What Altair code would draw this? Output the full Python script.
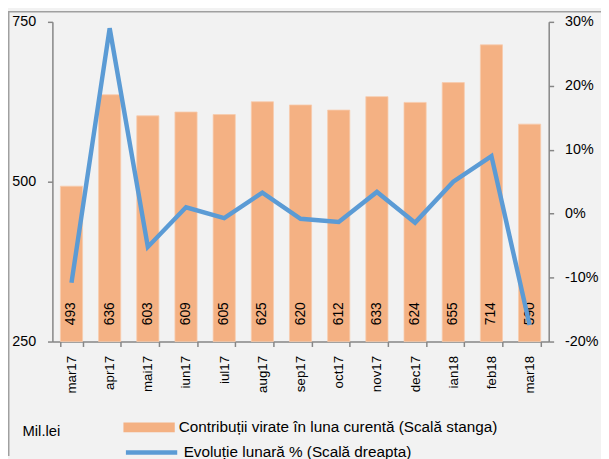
import altair as alt
import pandas as pd

# ---- data ----
months = ["mar17", "apr17", "mai17", "iun17", "iul17", "aug17", "sep17",
          "oct17", "nov17", "dec17", "ian18", "feb18", "mar18"]
contributii = [493, 636, 603, 609, 605, 625, 620, 612, 633, 624, 655, 714, 590]
evolutie = [-10.8, 29.0, -5.2, 1.0, -0.7, 3.3, -0.8, -1.3, 3.4, -1.4, 5.0, 9.0, -17.4]
left_ticks = [250, 500, 750]
right_ticks = [-20, -10, 0, 10, 20, 30]
bar_name = "Contribuții  virate în luna curentă (Scală stanga)"
line_name = "Evoluție lunară % (Scală dreapta)"
unit_label = ["Mil.lei"]

df = pd.DataFrame({
    "luna": months,
    "valoare": contributii,
    "evolutie": evolutie,
    "serie_bar": [bar_name] * len(months),
    "serie_line": [line_name] * len(months),
})

FONT = "Liberation Sans, Arial, sans-serif"
AX = "#868686"
BAR = "#F4B183"
LINE = "#5B9BD5"

x_enc = alt.X(
    "luna:N", sort=months,
    scale=alt.Scale(paddingInner=0.42, paddingOuter=0.21),
    axis=alt.Axis(title=None, labelAngle=270, labelFont=FONT, labelFontSize=13.5,
                  labelColor="black", labelPadding=9, tickSize=5, tickBand="extent",
                  domainColor=AX, tickColor=AX, domainWidth=1.5, tickWidth=1.5),
)

y_left_scale = alt.Scale(domain=[250, 750], nice=False, zero=False)

bars = alt.Chart(df).mark_bar(stroke="#F8CBAD", strokeWidth=0.8).encode(
    x=x_enc,
    y=alt.Y("valoare:Q", scale=y_left_scale,
            axis=alt.Axis(title=None, values=left_ticks, labelFont=FONT, labelFontSize=14.5,
                          labelColor="black", labelPadding=12, tickSize=5, grid=False,
                          domainColor=AX, tickColor=AX, domainWidth=1.5, tickWidth=1.5)),
    y2=alt.datum(250),
    fill=alt.Fill("serie_bar:N", scale=alt.Scale(range=[BAR]),
                  legend=alt.Legend(title=None, orient="none", legendX=72, legendY=385,
                                    symbolType="M-1,-0.19H1V0.19H-1Z", symbolSize=2704,
                                    symbolStrokeWidth=0, labelFont=FONT, labelFontSize=15.5,
                                    labelColor="black", labelOffset=4, labelLimit=0,
                                    padding=0)),
)

labels = alt.Chart(df).mark_text(angle=270, align="left", baseline="middle", dx=16.5,
                                 font=FONT, fontSize=14, color="black").encode(
    x=alt.X("luna:N", sort=months),
    y=alt.YDatum(250, scale=y_left_scale),
    text=alt.Text("valoare:Q"),
)

line = alt.Chart(df).mark_line(strokeWidth=4.5).encode(
    x=alt.X("luna:N", sort=months),
    y=alt.Y("evolutie:Q", scale=alt.Scale(domain=[-20, 30], nice=False, zero=False),
            axis=alt.Axis(title=None, orient="right", values=right_ticks,
                          labelExpr="datum.value + '%'", labelFont=FONT, labelFontSize=14.5,
                          labelColor="black", labelPadding=11, tickSize=5, grid=False,
                          domainColor=AX, tickColor=AX, domainWidth=1.5, tickWidth=1.5)),
    stroke=alt.Stroke("serie_line:N", scale=alt.Scale(range=[LINE]),
                      legend=alt.Legend(title=None, orient="none", legendX=72, legendY=408,
                                        symbolType="stroke", symbolSize=2704,
                                        symbolStrokeWidth=4.5, labelFont=FONT,
                                        labelFontSize=15.5, labelColor="black",
                                        labelOffset=4, labelLimit=0, padding=0)),
)

unit = alt.Chart(pd.DataFrame({"t": unit_label})).mark_text(
    align="left", baseline="middle", font=FONT, fontSize=15, color="black"
).encode(x=alt.value(-30.3), y=alt.value(415), text="t:N")

frame = pd.DataFrame({"k": [0]})
top_border = alt.Chart(frame).mark_rule(color="#A0A0A0", strokeWidth=1.5).encode(
    x=alt.value(-45), x2=alt.value(556), y=alt.value(-10.25))
left_border = alt.Chart(frame).mark_rule(color="#A0A0A0", strokeWidth=1.5).encode(
    x=alt.value(-44.25), y=alt.value(-11), y2=alt.value(440))

chart = alt.layer(
    alt.layer(bars, labels),
    line,
    unit,
    top_border,
    left_border,
).resolve_scale(y="independent", fill="independent", stroke="independent").properties(
    width=503, height=324,
    autosize=alt.AutoSizeParams(type="none"),
    padding={"left": 45, "top": 11, "right": 53, "bottom": 116},
    background="#F2F2F2",
).configure_view(stroke=None)

chart.save("out.html", embed_options={"renderer": "svg", "actions": False})
